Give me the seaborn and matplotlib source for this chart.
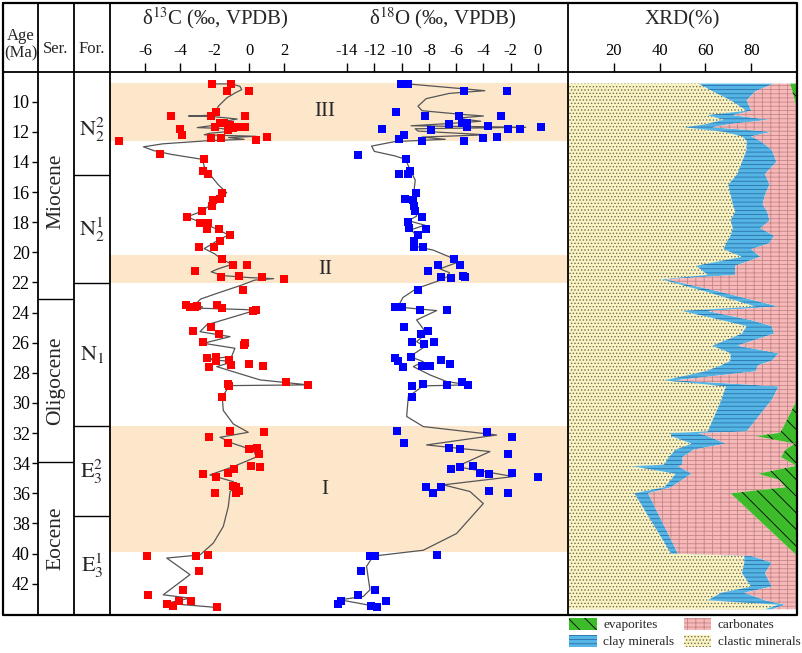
import numpy as np
import matplotlib
matplotlib.use('Agg')
import matplotlib.pyplot as plt
from matplotlib.patches import Patch
import matplotlib.transforms as mtransforms
import seaborn as sns

# ---- data ----
age_ticks = list(range(10, 44, 2))
c13_ticks = [-6, -4, -2, 0, 2]
o18_ticks = [-14, -12, -10, -8, -6, -4, -2, 0]
xrd_ticks = [20, 40, 60, 80]

series_names = ['Miocene', 'Oligocene', 'Eocene']
series_bounds = [23.07, 33.93]
formation_names = [r'$\mathrm{N}_2^2$', r'$\mathrm{N}_2^1$', r'$\mathrm{N}_1$',
                   r'$\mathrm{E}_3^2$', r'$\mathrm{E}_3^1$']
formation_bounds = [14.9, 22.04, 31.56, 37.54]

band_labels = ['III', 'II', 'I']
band_top = [8.76, 20.2, 31.56]
band_bottom = [12.61, 22.04, 39.93]

# (age Ma, d13C permil)
c13_points = [
    (8.82, -2.17), (8.82, -1.04), (9.31, -1.27), (9.28, 0.0), (10.68, -1.92),
    (10.93, -2.23), (10.96, -4.51), (10.96, -0.25), (11.81, -3.99), (12.19, -3.9),
    (12.41, -2.23), (12.41, -1.63), (12.57, 0.37), (12.32, 1.04), (12.59, -7.49),
    (11.7, -1.98), (11.42, -1.69), (11.42, -1.46), (11.86, -1.21), (11.75, -0.92),
    (11.68, -0.63), (11.7, -0.25), (11.52, -1.11), (13.5, -5.15), (13.83, -2.61),
    (14.58, -2.65), (14.8, -2.36), (16.08, -1.56), (16.5, -2.07), (16.48, -1.69),
    (16.9, -2.15), (17.28, -2.75), (17.68, -3.61), (18.03, -2.84), (18.03, -2.36),
    (18.47, -2.42), (18.47, -1.73), (18.85, -1.11), (19.23, -1.69), (19.62, -2.88),
    (19.62, -2.02), (20.44, -1.59), (20.84, -0.92), (20.84, -0.15), (21.22, -3.13),
    (21.66, -1.65), (21.57, -0.58), (21.66, 0.75), (21.75, 2.0), (22.5, -0.35),
    (23.52, -3.65), (23.62, -3.4), (23.62, -3.15), (23.58, -3.0), (23.5, -1.88),
    (23.72, -1.6), (23.87, 0.19), (23.83, 0.38), (24.93, -2.23), (25.2, -3.23),
    (25.42, -1.73), (25.93, -2.65), (26.0, -0.25), (26.15, -0.31), (27.03, -2.42),
    (26.97, -1.92), (27.19, -1.92), (27.15, -1.15), (27.63, -2.31), (27.48, -1.08),
    (27.42, 0.0), (27.52, 0.81), (28.58, 2.11), (28.8, 3.37), (28.73, -1.25),
    (28.87, -1.15), (29.6, -1.56), (32.25, -2.32), (31.85, -1.11), (31.95, 0.86),
    (32.68, -1.21), (33.07, 0.0), (32.96, 0.42), (33.41, 0.58), (34.16, 0.08),
    (34.23, 0.6), (34.4, -0.86), (34.67, -1.21), (34.73, -2.65), (34.89, -1.92),
    (35.51, -0.92), (35.55, -0.77), (35.88, -0.58), (35.95, -0.77), (35.95, -1.98),
    (40.15, -3.07), (40.09, -2.36), (40.15, -5.88), (41.13, -2.9), (42.41, -3.84),
    (42.74, -5.84), (43.12, -3.38), (43.12, -4.05), (43.34, -4.76), (43.47, -4.38),
    (43.58, -1.88),
]

c13_curve = [
    (8.82, -2.17), (8.82, -1.04), (8.98, -0.54), (9.2, -0.44), (9.42, -0.82),
    (9.75, -1.3), (10.31, -1.79), (10.68, -1.92), (10.9, -2.1), (10.95, -3.5),
    (10.98, -2.2), (11.15, -0.7), (11.35, -1.6), (11.55, -1.9), (11.72, -3.0),
    (11.78, -1.6), (11.95, -0.9), (12.1, -2.3), (12.2, -2.6), (12.3, 0.4),
    (12.38, -1.2), (12.5, -0.3), (12.6, -2.5), (12.8, -5.0), (13.0, -6.1),
    (13.25, -5.5), (13.5, -4.5), (13.83, -2.7), (14.3, -2.6), (14.8, -2.3),
    (15.5, -1.8), (16.05, -1.3), (16.5, -2.0), (17.0, -2.4), (17.35, -2.9),
    (17.65, -3.6), (18.0, -2.8), (18.5, -1.8), (18.85, -1.2), (19.2, -1.8),
    (19.55, -2.3), (19.75, -2.6), (20.1, -2.0), (20.45, -1.6), (20.8, -1.0),
    (21.1, -1.8), (21.3, -2.2), (21.55, -1.5), (21.68, 0.0), (21.75, 1.4),
    (21.85, 0.3), (22.2, -0.5), (22.7, -1.8), (23.1, -2.8), (23.55, -3.2),
    (23.62, -2.7), (23.7, -3.2), (23.8, -0.3), (23.85, 0.35), (24.82, -2.46),
    (25.27, -2.84), (25.6, -1.11), (26.04, -2.65), (26.37, -0.83), (26.92, -1.02),
    (27.1, -2.46), (27.26, -0.92), (27.59, -1.88), (28.47, 0.61), (28.8, 3.37),
    (28.85, -1.0), (28.98, -1.21), (29.6, -1.56), (30.5, -1.5), (31.4, -0.92),
    (31.95, -0.06), (32.28, -1.69), (32.7, -0.92), (33.14, 0.23), (33.58, 0.42),
    (34.23, -0.92), (34.78, -2.27), (35.23, -0.92), (35.55, -0.73), (35.88, -1.11),
    (36.88, -1.21), (38.2, -1.5), (39.3, -2.07), (40.09, -2.84), (40.3, -4.76),
    (41.4, -3.42), (42.74, -4.96), (42.96, -3.42), (43.3, -4.76), (43.58, -1.88),
]

# (age Ma, d18O permil)
o18_points = [
    (8.82, -10.07), (8.82, -9.55), (9.31, -5.43), (9.31, -2.25), (10.71, -10.41),
    (10.96, -8.28), (10.93, -5.77), (10.98, -2.71), (11.48, -6.5), (11.42, -5.6),
    (11.42, -5.23), (11.7, -5.23), (11.59, -3.69), (11.81, -11.46), (11.88, -7.84),
    (11.79, -2.22), (11.79, -1.32), (11.66, 0.22), (12.19, -9.8), (12.46, -10.17),
    (12.59, -8.53), (12.59, -5.4), (12.41, -4.06), (12.32, -3.03), (13.54, -13.18),
    (13.83, -9.71), (14.58, -9.39), (14.8, -10.17), (14.8, -9.51), (16.08, -8.95),
    (16.48, -9.76), (16.5, -9.15), (16.9, -9.1), (17.25, -9.05), (17.68, -8.51),
    (18.0, -9.5), (18.4, -9.45), (18.47, -8.24), (18.85, -8.83), (19.23, -9.07),
    (19.62, -9.07), (19.62, -8.46), (20.44, -6.14), (20.84, -7.36), (20.84, -5.72),
    (21.22, -8.09), (21.66, -7.11), (21.68, -6.38), (21.57, -5.53), (21.66, -5.35),
    (22.5, -8.78), (23.6, -10.5), (23.6, -10.25), (23.62, -10.0), (23.83, -8.66),
    (23.83, -6.65), (24.93, -9.83), (25.42, -8.61), (25.22, -8.09), (25.93, -9.27),
    (26.11, -8.36), (25.93, -7.63), (27.03, -10.46), (27.19, -10.24), (27.63, -9.93),
    (26.97, -9.34), (27.52, -8.48), (27.52, -7.92), (27.15, -7.14), (27.43, -6.45),
    (28.87, -9.22), (28.74, -8.46), (28.8, -6.65), (28.58, -5.57), (28.8, -5.11),
    (29.58, -9.22), (31.86, -10.37), (32.68, -9.83), (31.95, -3.72), (32.28, -1.93),
    (33.01, -6.55), (33.07, -5.72), (33.41, -2.22), (34.23, -5.72), (34.16, -4.74),
    (34.4, -6.38), (34.67, -4.25), (34.73, -3.59), (34.67, -1.93), (34.89, 0.02),
    (35.55, -8.22), (35.55, -7.11), (35.95, -7.68), (35.88, -3.59), (35.95, -2.18),
    (40.15, -12.32), (40.15, -11.96), (40.09, -7.43), (41.13, -12.98), (42.41, -11.96),
    (42.74, -13.23), (43.12, -11.15), (43.12, -14.47), (43.34, -14.67), (43.47, -12.27),
    (43.58, -11.83),
]

o18_curve = [
    (8.82, -9.55), (9.27, -3.9), (9.45, -6.5), (9.8, -8.2), (10.3, -8.8),
    (10.6, -8.5), (10.85, -5.5), (10.95, -4.0), (11.1, -6.0), (11.3, -4.2),
    (11.45, -6.5), (11.6, -9.3), (11.7, -0.9), (11.8, -9.0), (11.95, -8.8),
    (12.2, -3.8), (12.35, -8.5), (12.5, -6.8), (12.65, -10.5), (12.95, -12.2),
    (13.3, -12.0), (13.6, -10.5), (13.83, -9.7), (14.5, -9.4), (15.2, -9.0),
    (16.0, -9.1), (16.8, -9.1), (17.6, -8.9), (17.9, -9.5), (18.2, -8.3),
    (18.5, -9.3), (18.9, -8.9), (19.3, -9.0), (19.6, -9.0), (19.85, -7.7),
    (20.3, -6.5), (20.7, -6.0), (21.1, -7.2), (21.35, -6.5), (21.6, -6.6),
    (21.9, -7.3), (22.4, -8.9), (23.0, -9.9), (23.5, -10.2), (23.65, -10.1),
    (23.87, -7.43), (24.49, -8.9), (25.38, -8.17), (25.93, -8.9), (26.26, -8.29),
    (26.92, -9.39), (27.26, -8.41), (27.59, -9.14), (28.14, -7.92), (28.58, -6.7),
    (28.8, -5.11), (28.87, -8.41), (29.58, -9.51), (30.9, -9.63), (31.57, -8.41),
    (32.13, -3.03), (32.79, -8.17), (33.23, -3.52), (34.23, -5.97), (34.89, -1.81),
    (35.44, -6.94), (35.88, -4.99), (36.68, -4.01), (38.67, -5.97), (39.78, -8.41),
    (40.17, -12.08), (40.85, -12.57), (42.41, -12.32), (42.85, -12.81), (43.07, -14.52),
    (43.52, -11.83),
]

# XRD composition (%), samples down-core
xrd_age = [8.8, 9.3, 9.9, 10.6, 10.9, 11.2, 11.5, 11.7, 12.0, 12.3, 12.6, 13.2, 14.0,
           14.8, 15.5, 16.2, 16.8, 17.3, 17.9, 18.4, 18.9, 19.4, 19.8, 20.3, 20.9,
           21.5, 21.8, 22.6, 23.6, 23.9, 24.5, 24.9, 25.4, 26.2, 26.7, 27.2, 27.5,
           27.9, 28.5, 28.9, 29.8, 31.9, 32.0, 32.2, 32.7, 33.1, 33.6, 34.1, 34.2,
           34.7, 35.1, 35.6, 36.0, 40.0, 40.15, 40.6, 41.3, 42.2, 42.6, 43.1, 43.4, 43.7]
xrd_clastic = [57, 63, 71, 78, 61, 68, 60, 51, 68, 76, 78, 78, 76, 74, 70, 71, 72, 73,
               71, 72, 71, 69, 68, 76, 56, 61, 41, 60, 82, 50, 67, 78, 76, 63, 71, 71,
               67, 60, 42, 69, 67, 61, 45, 45, 54, 47, 44, 42, 28, 47, 45, 42, 29, 45,
               77, 77, 76, 80, 67, 61, 92, 86]
xrd_clay = [33, 19, 7, 2, 11, 20, 10, 12, 21, 4, 6, 11, 15, 12, 18, 15, 13, 14, 17, 12,
            19, 19, 12, 8, 17, 12, 2, 6, 10, 11, 13, 11, 14, 11, 21, 18, 16, 22, 5, 23,
            22, 17, 12, 16, 15, 8, 6, 8, 20, 7, 5, 3, 6, 3, 3, 12, 10, 9, 10, 25, 3, 3]
xrd_carbonate = [7, 16, 21, 20, 28, 12, 30, 37, 11, 20, 16, 11, 9, 14, 12, 14, 15, 13,
                 12, 16, 10, 12, 20, 16, 27, 27, 57, 34, 8, 39, 20, 11, 10, 26, 8, 11,
                 17, 18, 53, 8, 11, 15, 35, 21, 30, 40, 43, 49, 51, 29, 42, 50, 36, 51,
                 20, 11, 14, 11, 23, 14, 5, 11]
xrd_evaporite = [3, 2, 1, 0, 0, 0, 0, 0, 0, 0, 0, 0, 0, 0, 0, 0, 0, 0, 0, 0, 0, 0, 0, 0,
                 0, 0, 0, 0, 0, 0, 0, 0, 0, 0, 0, 0, 0, 0, 0, 0, 0, 7, 8, 18, 1, 5, 7, 1,
                 1, 17, 8, 5, 29, 1, 0, 0, 0, 0, 0, 0, 0, 0]

# ---- style ----
sns.set_theme(style='white')
plt.rcParams['font.family'] = ['Liberation Serif', 'DejaVu Serif']
plt.rcParams['mathtext.fontset'] = 'stix'
plt.rcParams['axes.unicode_minus'] = False
plt.rcParams['hatch.linewidth'] = 0.6

W, H = 803, 653
AGE_TOP, AGE_BOT = 8.03, 44.08
fig = plt.figure(figsize=(W / 100, H / 100), dpi=100)


def px_axes(x0, y0, x1, y1, **kw):
    return fig.add_axes([x0 / W, 1 - y1 / H, (x1 - x0) / W, (y1 - y0) / H], **kw)


def clean(ax):
    for s in ax.spines.values():
        s.set_visible(False)
    ax.set_facecolor('none')


def top_ticks(ax, ticks):
    ax.set_xticks(ticks)
    ax.xaxis.set_ticks_position('top')
    ax.xaxis.set_label_position('top')
    ax.tick_params(axis='x', top=True, bottom=False, labeltop=True,
                   labelbottom=False, direction='out', length=6.5, width=1,
                   pad=3, labelsize=12, colors='black')


# series column with the age scale
ax_ser = px_axes(38, 72, 74, 615)
clean(ax_ser)
ax_ser.set_xlim(0, 1)
ax_ser.set_ylim(AGE_BOT, AGE_TOP)
ax_ser.set_xticks([])
ax_ser.set_yticks(age_ticks)
ax_ser.tick_params(axis='y', left=True, direction='out', length=4.5, width=1,
                   pad=1.5, labelsize=13, colors='black')
edges = [min(a for a, _ in c13_points)] + series_bounds + [AGE_BOT]
for b in series_bounds:
    ax_ser.axhline(b, color='black', lw=1)
for name, a0, a1 in zip(series_names, edges[:-1], edges[1:]):
    ax_ser.text(0.5, (a0 + a1) / 2, name, rotation=90, ha='center', va='center',
                fontsize=15.5)

# formation column
ax_for = px_axes(74, 72, 110, 615)
clean(ax_for)
ax_for.set_xlim(0, 1)
ax_for.set_ylim(AGE_BOT, AGE_TOP)
ax_for.set_xticks([])
ax_for.set_yticks([])
edges = [min(a for a, _ in c13_points)] + formation_bounds + [AGE_BOT]
for b in formation_bounds:
    ax_for.axhline(b, color='black', lw=1)
for name, a0, a1 in zip(formation_names, edges[:-1], edges[1:]):
    ax_for.text(0.5, (a0 + a1) / 2, name, ha='center', va='center', fontsize=16)

# isotope panel: d13C on the main x axis, d18O on a twin
ax_c = px_axes(110, 72, 568, 615)
clean(ax_c)
ax_c.set_facecolor('white')
ax_o = ax_c.twiny()
clean(ax_o)

for top, bot in zip(band_top, band_bottom):
    ax_c.axhspan(top, bot, color='#fde7cb', lw=0, zorder=0)
trans = mtransforms.blended_transform_factory(ax_c.transAxes, ax_c.transData)
for lab, top, bot in zip(band_labels, band_top, band_bottom):
    ax_c.text(0.469, (top + bot) / 2, lab, transform=trans, ha='center',
              va='center', fontsize=15)

c13_cage, c13_cval = zip(*c13_curve)
sns.lineplot(x=list(c13_cval), y=list(c13_cage), sort=False, estimator=None,
             ax=ax_c, color='#555555', lw=0.9, zorder=2)
c13_age, c13_val = zip(*c13_points)
sns.scatterplot(x=list(c13_val), y=list(c13_age), ax=ax_c, marker='s', s=30,
                color='#ff0000', linewidth=0, zorder=3)
ax_c.set_xlim(-8.03, 18.37)
ax_c.set_ylim(AGE_BOT, AGE_TOP)
ax_c.set_yticks([])
ax_c.set_xlabel('')
ax_c.set_ylabel('')
top_ticks(ax_c, c13_ticks)

o18_cage, o18_cval = zip(*o18_curve)
sns.lineplot(x=list(o18_cval), y=list(o18_cage), sort=False, estimator=None,
             ax=ax_o, color='#555555', lw=0.9, zorder=2)
o18_age, o18_val = zip(*o18_points)
sns.scatterplot(x=list(o18_val), y=list(o18_age), ax=ax_o, marker='s', s=30,
                color='#0000ff', linewidth=0, zorder=3)
ax_o.set_xlim(-31.38, 2.2)
ax_o.set_ylim(AGE_BOT, AGE_TOP)
ax_o.set_xlabel('')
ax_o.set_ylabel('')
top_ticks(ax_o, o18_ticks)

# XRD stacked composition
ax_x = px_axes(568, 72, 797, 615)
clean(ax_x)
ax_x.set_facecolor('white')
age = np.array(xrd_age)
c1 = np.array(xrd_clastic, dtype=float)
c2 = c1 + np.array(xrd_clay)
c3 = c2 + np.array(xrd_carbonate)
c4 = c3 + np.array(xrd_evaporite)
layers = [
    ('clastic minerals', np.zeros_like(c1), c1, '#fbf4c2', '#6d6d5a', '.....'),
    ('clay minerals', c1, c2, '#55b6e6', '#2a6fa8', '----'),
    ('carbonates', c2, c3, '#f6b8b8', '#c48686', '----||'),
    ('evaporites', c3, c4, '#3dbb2a', '#000000', '\\\\'),
]
for name, lo, hi, fc, hc, hatch in layers:
    ax_x.fill_betweenx(age, lo, hi, facecolor=fc, edgecolor=hc, hatch=hatch, lw=0)
ax_x.set_xlim(0, 100)
ax_x.set_ylim(AGE_BOT, AGE_TOP)
ax_x.set_yticks([])
top_ticks(ax_x, xrd_ticks)

# frame, header texts
ax_f = fig.add_axes([0, 0, 1, 1], zorder=10)
ax_f.set_xlim(0, W)
ax_f.set_ylim(H, 0)
ax_f.axis('off')
ax_f.patch.set_visible(False)
ax_f.plot([3, 797, 797, 3, 3], [3, 3, 615, 615, 3], color='black', lw=1.6)
ax_f.plot([3, 797], [72, 72], color='black', lw=1.3)
for xv in [38, 74, 110, 568]:
    ax_f.plot([xv, xv], [3, 615], color='black', lw=1.3)
ax_f.text(20.5, 45, 'Age\n(Ma)', ha='center', va='center', fontsize=12,
          linespacing=1.1)
ax_f.text(56, 49, 'Ser.', ha='center', va='center', fontsize=12)
ax_f.text(92, 49, 'For.', ha='center', va='center', fontsize=12)
ax_f.text(215, 18, 'δ$^{13}$C (‰, VPDB)', ha='center', va='center', fontsize=15)
ax_f.text(443, 18, 'δ$^{18}$O (‰, VPDB)', ha='center', va='center', fontsize=15)
ax_f.text(682, 20, 'XRD(%)', ha='center', va='center', fontsize=15)

# legend
handles = [Patch(facecolor=fc, edgecolor=hc, hatch=hatch, lw=0, label=name)
           for name, lo, hi, fc, hc, hatch in layers]
order = [3, 1, 2, 0]
fig.legend([handles[i] for i in order], [layers[i][0] for i in order], ncol=2,
           loc='upper left', bbox_to_anchor=(569 / W, 1 - 618 / H), frameon=False,
           fontsize=9.5, handlelength=2.1, handleheight=1.0, handletextpad=0.5,
           columnspacing=0.7, labelspacing=0.25, borderaxespad=0, borderpad=0)

fig.savefig('out.png', dpi=100)
